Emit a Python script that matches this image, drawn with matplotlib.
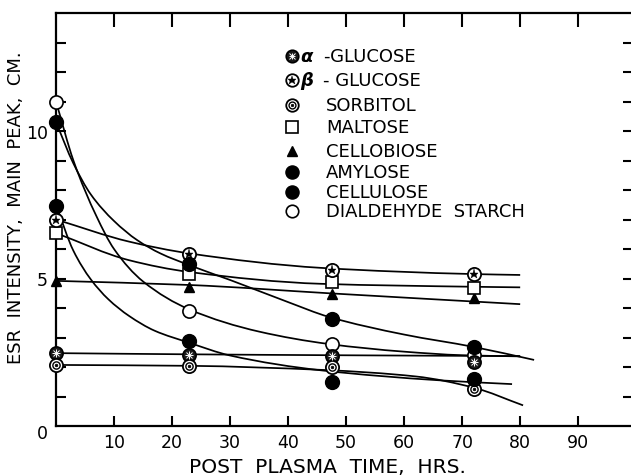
import numpy as np
import matplotlib
matplotlib.use("Agg")
import matplotlib.pyplot as plt
from matplotlib.path import Path
from matplotlib.patches import PathPatch

plt.rcParams['font.family'] = ['DejaVu Sans']

# ---- measured ESR intensities (cm) at each post-plasma time (hrs) ----
times = [0, 23, 47.5, 72]
alpha_glucose = [2.47, 2.41, 2.37, 2.17]
beta_glucose = [6.98, 5.83, 5.29, 5.15]
sorbitol = [2.07, 2.03, 2.00, 1.25]
maltose = [6.54, 5.15, 4.88, 4.68]
cellobiose = [4.90, 4.71, 4.47, 4.34]
amylose = [10.30, 5.49, 3.63, 2.68]
cellulose = [7.45, 2.88, 1.49, 1.60]
dialdehyde_starch = [11.00, 3.90, 2.78, 2.40]

# ---- hand-fitted decay curves (knots in hrs / cm) ----
beta_fit_t = [0, 12.6, 23, 45.7, 72, 80]
beta_fit_y = [7.00, 6.25, 5.85, 5.36, 5.15, 5.12]
maltose_fit_t = [0, 12.6, 23, 45.7, 72, 80]
maltose_fit_y = [6.54, 5.62, 5.22, 4.82, 4.72, 4.70]
cellobiose_fit_t = [0, 23, 47, 80]
cellobiose_fit_y = [4.92, 4.78, 4.50, 4.13]
alpha_fit_t = [0, 23, 47, 80]
alpha_fit_y = [2.47, 2.43, 2.40, 2.37]
sorbitol_fit_t = [0, 23, 46, 62, 72, 80.5]
sorbitol_fit_y = [2.07, 2.04, 1.90, 1.68, 1.30, 0.70]
amylose_fit_t = [0, 3, 6, 10, 14, 18, 23, 30, 40, 47, 60, 72, 82.4]
amylose_fit_y = [10.3, 8.9, 7.85, 6.95, 6.3, 5.85, 5.45, 4.95, 4.2, 3.7, 3.1, 2.68, 2.24]
cellulose_fit_t = [0, 3, 6, 9, 12.6, 17, 23, 30, 46, 66, 78.6]
cellulose_fit_y = [7.5, 5.94, 4.97, 4.30, 3.73, 3.23, 2.82, 2.39, 1.88, 1.55, 1.42]
ds_fit_t = [0, 3, 7, 10, 15, 23, 35, 47, 60, 70, 80]
ds_fit_y = [11.0, 9.0, 7.1, 6.0, 4.9, 3.95, 3.2, 2.78, 2.52, 2.40, 2.36]

legend_labels = ["-GLUCOSE", "- GLUCOSE", "SORBITOL", "MALTOSE", "CELLOBIOSE",
                 "AMYLOSE", "CELLULOSE", "DIALDEHYDE  STARCH"]
xtick_vals = [10, 20, 30, 40, 50, 60, 70, 80, 90]
ytick_vals = list(range(1, 14))

W, H = 631, 477


def smooth_path(ts, ys):
    """Monotone cubic (Hermite) curve through the knots, as Bezier segments."""
    ts = np.asarray(ts, float)
    ys = np.asarray(ys, float)
    h = np.diff(ts)
    d = np.diff(ys) / h
    m = np.zeros_like(ys)
    m[0], m[-1] = d[0], d[-1]
    for i in range(1, len(ys) - 1):
        if d[i - 1] * d[i] <= 0:
            m[i] = 0.0
        else:
            w1 = 2 * h[i] + h[i - 1]
            w2 = h[i] + 2 * h[i - 1]
            m[i] = (w1 + w2) / (w1 / d[i - 1] + w2 / d[i])
    verts = [(ts[0], ys[0])]
    codes = [Path.MOVETO]
    for i in range(len(h)):
        verts += [(ts[i] + h[i] / 3, ys[i] + m[i] * h[i] / 3),
                  (ts[i + 1] - h[i] / 3, ys[i + 1] - m[i + 1] * h[i] / 3),
                  (ts[i + 1], ys[i + 1])]
        codes += [Path.CURVE4] * 3
    return Path(verts, codes)


def draw_marker(ax, x, y, kind, transform=None, ms=9.5):
    kw = dict(linestyle='none', clip_on=False, zorder=5)
    if transform is not None:
        kw['transform'] = transform
    top = {**kw, 'zorder': 6}
    if kind == 'alpha':
        ax.plot(x, y, 'o', ms=ms, mfc='#1a1a1a', mec='k', mew=1.2, **kw)
        ax.plot(x, y, '+', ms=ms * 0.55, mec='white', mew=0.7, **top)
        ax.plot(x, y, 'x', ms=ms * 0.45, mec='white', mew=0.7, **top)
    elif kind == 'beta':
        ax.plot(x, y, 'o', ms=ms, mfc='white', mec='k', mew=1.3, **kw)
        ax.plot(x, y, '*', ms=ms * 0.7, mfc='k', mec='k', mew=0.3, **top)
    elif kind == 'sorbitol':
        ax.plot(x, y, 'o', ms=ms, mfc='white', mec='k', mew=1.3, **kw)
        ax.plot(x, y, 'o', ms=ms * 0.55, mfc='none', mec='k', mew=1.0, **top)
        ax.plot(x, y, 'o', ms=ms * 0.2, mfc='k', mec='k', mew=0.5, **top)
    elif kind == 'maltose':
        ax.plot(x, y, 's', ms=ms * 0.95, mfc='white', mec='k', mew=1.2, **kw)
    elif kind == 'cellobiose':
        ax.plot(x, y, '^', ms=ms * 0.8, mfc='k', mec='k', mew=1.0, **kw)
    elif kind == 'filled':
        ax.plot(x, y, 'o', ms=ms * 1.05, mfc='k', mec='k', mew=1.0, **kw)
    elif kind == 'open':
        ax.plot(x, y, 'o', ms=ms, mfc='white', mec='k', mew=1.2, **kw)


fig = plt.figure(figsize=(W / 100, H / 100), dpi=100)
ax = fig.add_axes([56 / W, 50 / H, (W - 56) / W, 413 / H])
ax.set_xlim(0, 99.1)
ax.set_ylim(0, 14)

# axes frame
for side in ('left', 'top', 'bottom'):
    ax.spines[side].set_linewidth(1.6)
ax.spines['right'].set_visible(False)

ax.set_xticks(xtick_vals)
ax.set_xticklabels([str(v) for v in xtick_vals], fontsize=12.5)
ax.set_yticks(ytick_vals)
ax.set_yticklabels(['5' if v == 5 else ('10' if v == 10 else '') for v in ytick_vals],
                   fontsize=12.5)
ax.tick_params(axis='both', direction='in', width=1.5, top=True, right=True)
ax.tick_params(axis='x', length=7, pad=5)
ax.tick_params(axis='y', length=7, pad=6)
for t in ax.xaxis.get_major_ticks():
    t.tick2line.set_markersize(10)
for t in ax.yaxis.get_major_ticks():
    t.tick2line.set_markersize(6)

# fitted curves
fits = [(beta_fit_t, beta_fit_y), (maltose_fit_t, maltose_fit_y),
        (cellobiose_fit_t, cellobiose_fit_y), (alpha_fit_t, alpha_fit_y),
        (sorbitol_fit_t, sorbitol_fit_y), (amylose_fit_t, amylose_fit_y),
        (cellulose_fit_t, cellulose_fit_y), (ds_fit_t, ds_fit_y)]
for ft, fy in fits:
    ax.add_patch(PathPatch(smooth_path(ft, fy), fill=False, edgecolor='k',
                           lw=1.25, zorder=3, clip_on=False))

# data points
series = [(dialdehyde_starch, 'open'), (alpha_glucose, 'alpha'), (sorbitol, 'sorbitol'),
          (cellobiose, 'cellobiose'), (maltose, 'maltose'), (beta_glucose, 'beta'),
          (amylose, 'filled'), (cellulose, 'filled')]
for vals, kind in series:
    draw_marker(ax, times, vals, kind)

# key
key_kinds = ['alpha', 'beta', 'sorbitol', 'maltose', 'cellobiose', 'filled', 'filled', 'open']
key_rows = [57, 81, 106, 128, 152, 173, 193, 212]
for kind, yp, lab in zip(key_kinds, key_rows, legend_labels):
    draw_marker(ax, 292 / W, 1 - yp / H, kind, transform=fig.transFigure, ms=9)
    xt = 323 if lab.startswith('-') else 326
    fig.text(xt / W, 1 - yp / H, lab, fontsize=13, ha='left', va='center')
fig.text(300 / W, 1 - 57 / H, "α", fontsize=13, fontstyle='italic', fontweight='bold',
         ha='left', va='center')
fig.text(300 / W, 1 - 81 / H, "β", fontsize=13, fontstyle='italic', fontweight='bold',
         ha='left', va='center')

# axis titles
fig.text(42 / W, 1 - 434 / H, "0", fontsize=12.5, ha='center', va='center')
fig.text(327 / W, 1 - 468 / H, "POST  PLASMA  TIME,  HRS.", fontsize=14.5,
         ha='center', va='center')
fig.text(16 / W, 1 - 208 / H, "ESR  INTENSITY,  MAIN  PEAK,  CM.", fontsize=13,
         rotation=90, ha='center', va='center')

fig.savefig("out.png", dpi=100, facecolor='white')
